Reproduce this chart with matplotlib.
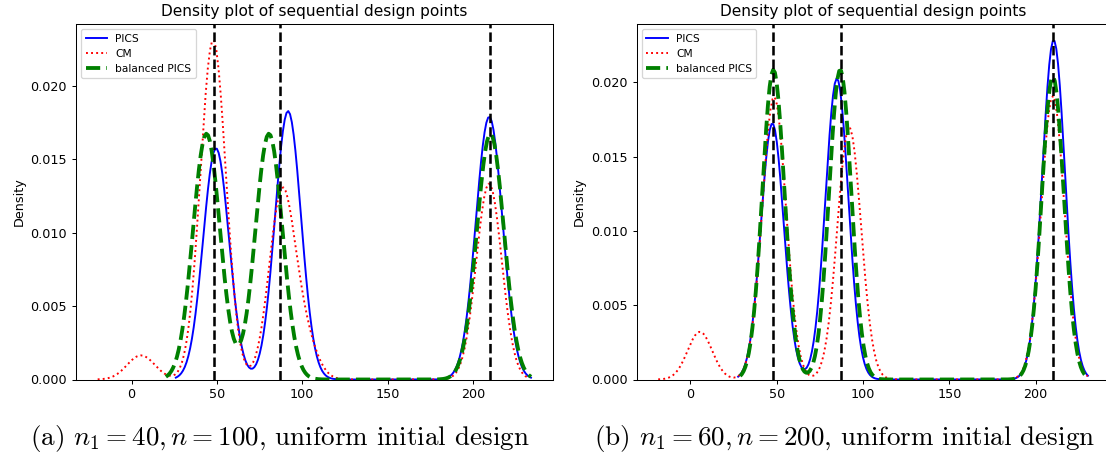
import matplotlib
matplotlib.use("Agg")
import numpy as np
import matplotlib.pyplot as plt
import seaborn as sns

plt.rcParams["mathtext.fontset"] = "cm"

# ---------------- data (design point locations and their multiplicities) -------------
# Panel (a): n1 = 40, n = 100  -> 60 sequential design points per method
pics_a_x = [48.5, 50.5, 90.5, 93.0, 207.5, 211.5]
pics_a_n = [9, 9, 11, 10, 10, 11]
cm_a_x = [2.5, 8.5, 47.8, 88.0, 101.0, 209.5]
cm_a_n = [1, 1, 26, 14, 3, 15]
bal_a_x = [43.9, 80.5, 210.3]
bal_a_n = [20, 20, 20]

# Panel (b): n1 = 60, n = 200  -> 140 sequential design points per method
pics_b_x = [47.5, 84.9, 210.5]
pics_b_n = [40, 47, 53]
cm_b_x = [1.5, 3.5, 4.5, 5.5, 6.5, 7.5, 9.5, 47.0, 50.0, 90.5, 93.5, 210.0]
cm_b_n = [1, 1, 1, 2, 1, 1, 1, 23, 23, 20, 21, 45]
bal_b_x = [48.1, 86.8, 210.0]
bal_b_n = [47, 47, 46]

true_change_points = [48, 87, 210]

captions = [r"(a) $n_1 = 40, n = 100$, uniform initial design",
            r"(b) $n_1 = 60, n = 200$, uniform initial design"]
title = "Density plot of sequential design points"
labels = ["PICS", "CM", "balanced PICS"]

panels = [
    [(pics_a_x, pics_a_n), (cm_a_x, cm_a_n), (bal_a_x, bal_a_n)],
    [(pics_b_x, pics_b_n), (cm_b_x, cm_b_n), (bal_b_x, bal_b_n)],
]

# ---------------- figure ---------------------------------------------------------------
DPI = 92
W, H = 1106, 459
fig = plt.figure(figsize=(W / DPI, H / DPI), dpi=DPI)

ax_rects = [
    [76 / W, (H - 379.5) / H, 476.7 / W, 355.5 / H],
    [636.7 / W, (H - 379.5) / H, 472.7 / W, 355.5 / H],
]
styles = [
    dict(color="blue", linestyle="-", linewidth=1.5),
    dict(color="red", linestyle=":", linewidth=1.5),
    dict(color="green", linestyle="--", linewidth=3),
]
caption_x = [280, 845]

for i, series in enumerate(panels):
    ax = fig.add_axes(ax_rects[i])
    for (xs, ns), lab, st in zip(series, labels, styles):
        pts = np.repeat(np.asarray(xs, float), ns)
        sns.kdeplot(x=pts, bw_adjust=0.25, ax=ax, label=lab, **st)
    for cp in true_change_points:
        ax.axvline(cp, color="black", linestyle="--", linewidth=2)
    ax.set_title(title)
    ax.set_ylabel("Density")
    ax.legend(loc="upper left", fontsize="small")
    fig.text(caption_x[i] / W, 1 - 438 / H, captions[i], ha="center", va="center",
             fontsize=21.2, family="cmr10")

fig.savefig("out.png", dpi=DPI)
